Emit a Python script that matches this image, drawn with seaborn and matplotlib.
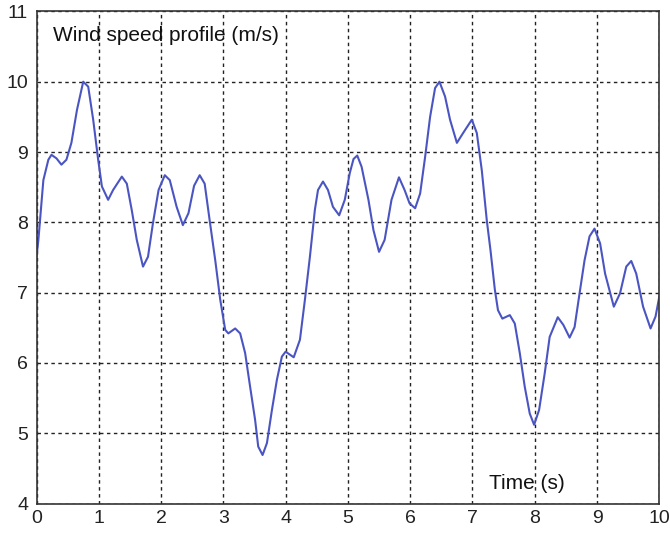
import matplotlib
matplotlib.use("Agg")
import matplotlib.pyplot as plt
import seaborn as sns
import pandas as pd

time_s = [0.00, 0.03, 0.11, 0.19, 0.24, 0.32, 0.40, 0.48, 0.56, 0.65, 0.75, 0.83, 0.91, 0.99,
          1.05, 1.15, 1.23, 1.37, 1.45, 1.53, 1.61, 1.71, 1.79, 1.87, 1.96, 2.06, 2.14, 2.25,
          2.35, 2.44, 2.53, 2.62, 2.70, 2.78, 2.87, 2.95, 3.03, 3.08, 3.19, 3.27, 3.35, 3.43,
          3.51, 3.56, 3.63, 3.70, 3.78, 3.86, 3.94, 4.00, 4.13, 4.23, 4.31, 4.39, 4.47, 4.52,
          4.60, 4.68, 4.76, 4.86, 4.95, 5.03, 5.09, 5.15, 5.22, 5.33, 5.41, 5.50, 5.59, 5.70,
          5.82, 5.91, 5.99, 6.08, 6.16, 6.24, 6.32, 6.40, 6.47, 6.56, 6.64, 6.75, 6.85, 6.99,
          7.07, 7.15, 7.23, 7.29, 7.36, 7.41, 7.48, 7.60, 7.68, 7.76, 7.84, 7.92, 7.99, 8.07,
          8.16, 8.24, 8.37, 8.46, 8.56, 8.64, 8.72, 8.80, 8.88, 8.96, 9.05, 9.13, 9.27, 9.37,
          9.47, 9.55, 9.63, 9.74, 9.86, 9.94, 10.00]
wind_speed = [7.51, 7.75, 8.60, 8.89, 8.96, 8.91, 8.82, 8.89, 9.13, 9.60, 10.00, 9.93, 9.46, 8.89,
              8.51, 8.32, 8.46, 8.65, 8.55, 8.17, 7.75, 7.37, 7.51, 7.99, 8.46, 8.67, 8.60, 8.22,
              7.96, 8.13, 8.52, 8.67, 8.55, 8.03, 7.46, 6.90, 6.47, 6.42, 6.49, 6.42, 6.14, 5.66,
              5.19, 4.81, 4.69, 4.86, 5.33, 5.76, 6.09, 6.16, 6.08, 6.33, 6.90, 7.51, 8.18, 8.46,
              8.58, 8.46, 8.22, 8.10, 8.32, 8.70, 8.90, 8.95, 8.79, 8.32, 7.89, 7.58, 7.75, 8.32,
              8.64, 8.46, 8.27, 8.20, 8.41, 8.93, 9.50, 9.91, 10.00, 9.79, 9.46, 9.13, 9.27, 9.46,
              9.27, 8.74, 8.03, 7.60, 7.04, 6.75, 6.63, 6.68, 6.56, 6.14, 5.66, 5.28, 5.12, 5.33,
              5.85, 6.37, 6.65, 6.54, 6.36, 6.51, 6.99, 7.46, 7.80, 7.91, 7.70, 7.27, 6.80, 6.99,
              7.37, 7.45, 7.27, 6.80, 6.49, 6.66, 6.94]

x_ticks = [0, 1, 2, 3, 4, 5, 6, 7, 8, 9, 10]
y_ticks = [4, 5, 6, 7, 8, 9, 10, 11]
y_label_text = "Wind speed profile (m/s)"
x_label_text = "Time (s)"

sns.set_style("white")
plt.rcParams['font.family'] = ['Liberation Sans', 'DejaVu Sans']

df = pd.DataFrame({"t": time_s, "v": wind_speed})

fig = plt.figure(figsize=(6.7, 5.33), dpi=100)
ax = fig.add_axes([0.0545, 0.0553, 0.9295, 0.9233])
sns.lineplot(data=df, x="t", y="v", ax=ax, color="#4b55c2", linewidth=1.5)

ax.set_xlim(0, 10)
ax.set_ylim(4, 11)
ax.set_xticks(x_ticks)
ax.set_yticks(y_ticks)
ax.set_xticklabels([str(t) for t in x_ticks], fontsize=14)
ax.set_yticklabels([str(t) for t in y_ticks], fontsize=14)
ax.tick_params(direction="in", length=4, width=1, colors="#222222")
ax.tick_params(axis="y", pad=6)
ax.tick_params(axis="x", pad=5)
ax.set_xlabel("")
ax.set_ylabel("")
ax.grid(True, color="#222222", linestyle=(0, (2.5, 2.5)), linewidth=1.0)
for s in ax.spines.values():
    s.set_color("#333333")
    s.set_linewidth(1.2)

ax.text(0.027, 0.9407, y_label_text, transform=ax.transAxes, fontsize=15,
        ha="left", va="baseline", color="#111111")
ax.text(0.788, 0.0295, x_label_text, transform=ax.transAxes, fontsize=15,
        ha="center", va="baseline", color="#111111")

fig.savefig("out.png", dpi=100)
